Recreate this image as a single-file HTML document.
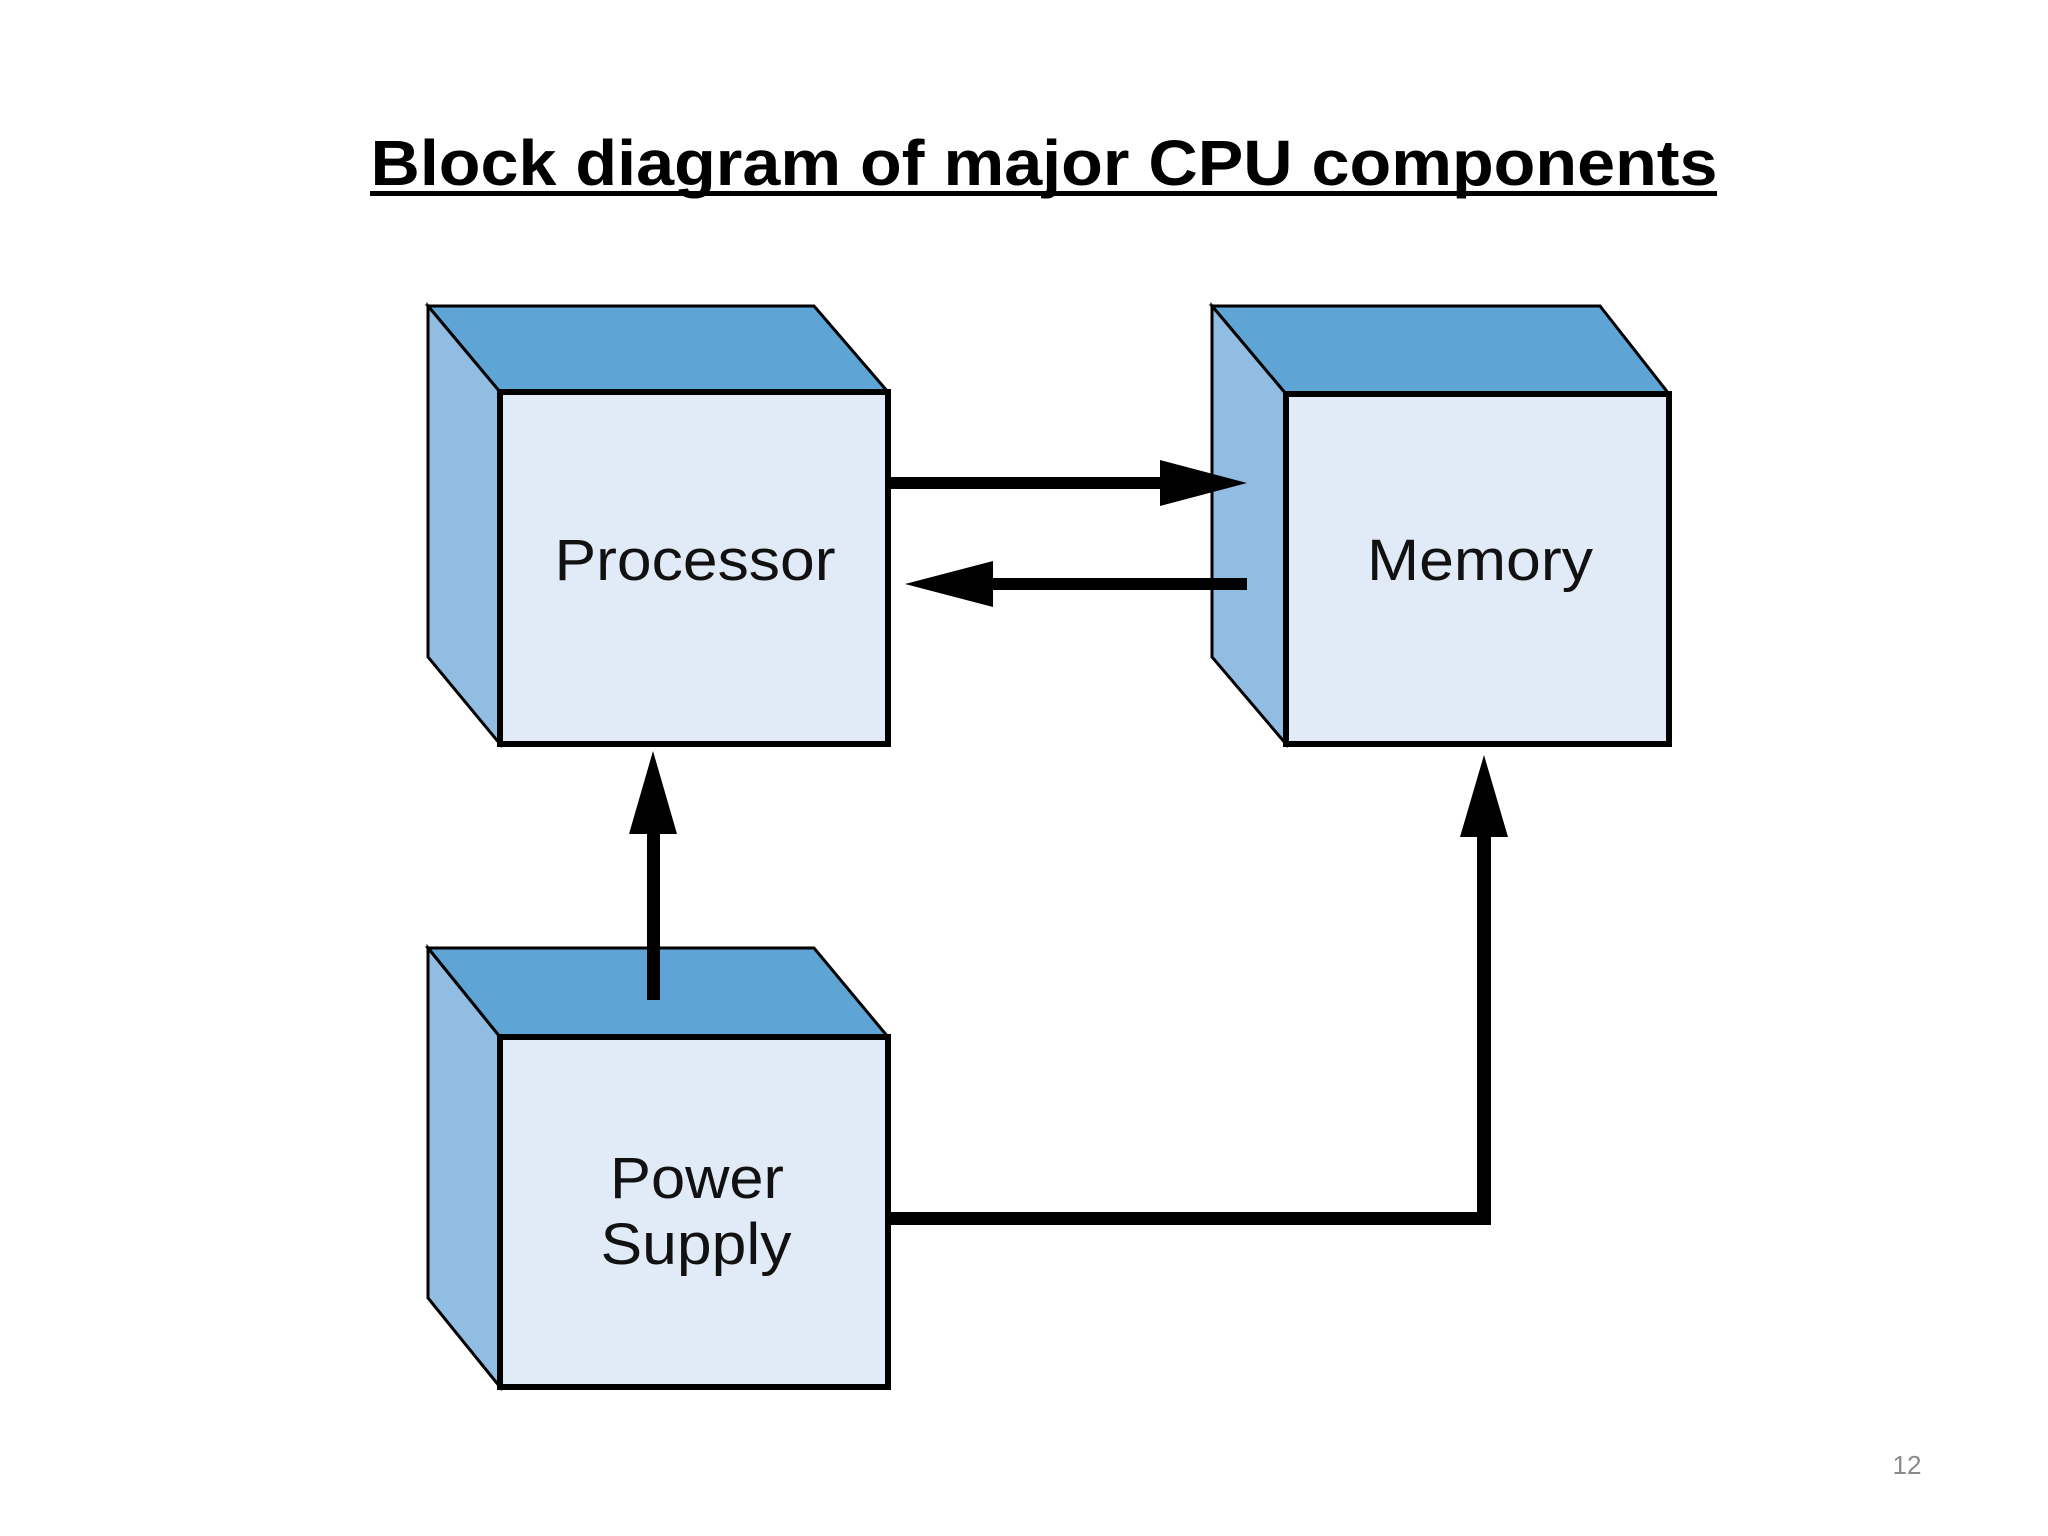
<!DOCTYPE html>
<html><head><meta charset="utf-8"><style>
html,body{margin:0;padding:0;background:#fff;}
svg{display:block;}
</style></head><body>
<svg width="2048" height="1536" viewBox="0 0 2048 1536" xmlns="http://www.w3.org/2000/svg">
<rect width="2048" height="1536" fill="#fff"/>
<text x="1044" y="185" font-family="Liberation Sans, sans-serif" font-weight="bold" font-size="64" text-anchor="middle" textLength="1347" lengthAdjust="spacingAndGlyphs" fill="#000">Block diagram of major CPU components</text>
<rect x="370" y="191" width="1347" height="5" fill="#000"/>

<g stroke="#000" stroke-linejoin="miter">
<polygon points="428,306 814,306 888,392 500,392" fill="#5ea5d5" stroke-width="3"/>
<polygon points="428,306 500,392 500,744 428,657" fill="#92bde3" stroke-width="3"/>
<rect x="500" y="392" width="388" height="352" fill="#e1eaf7" stroke-width="6"/>
<polygon points="1212,306 1600,306 1669,394 1286,394" fill="#5ea5d5" stroke-width="3"/>
<polygon points="1212,306 1286,394 1286,744 1212,657" fill="#92bde3" stroke-width="3"/>
<rect x="1286" y="394" width="383" height="350" fill="#e1eaf7" stroke-width="6"/>
<polygon points="428,948 814,948 888,1037 500,1037" fill="#5ea5d5" stroke-width="3"/>
<polygon points="428,948 500,1037 500,1387 428,1298" fill="#92bde3" stroke-width="3"/>
<rect x="500" y="1037" width="388" height="350" fill="#e1eaf7" stroke-width="6"/>
</g>

<g font-family="Liberation Sans, sans-serif" font-size="58" fill="#111" text-anchor="middle" lengthAdjust="spacingAndGlyphs">
<text x="695" y="580" textLength="281" lengthAdjust="spacingAndGlyphs">Processor</text>
<text x="1480" y="580" textLength="226" lengthAdjust="spacingAndGlyphs">Memory</text>
<text x="697" y="1198" textLength="174" lengthAdjust="spacingAndGlyphs">Power</text>
<text x="696" y="1264" textLength="191" lengthAdjust="spacingAndGlyphs">Supply</text>
</g>

<g fill="#000">
<rect x="888" y="477" width="275" height="12"/>
<polygon points="1160,460 1247,483 1160,506"/>
<rect x="990" y="578" width="257" height="12"/>
<polygon points="993,561 905,584 993,607"/>
<rect x="647" y="830" width="13" height="170"/>
<polygon points="629,834 653,751 677,834"/>
<rect x="888" y="1212" width="603" height="13"/>
<rect x="1477" y="832" width="14" height="393"/>
<polygon points="1460,837 1484,755 1508,837"/>
</g>

<text x="1907" y="1474" font-family="Liberation Sans, sans-serif" font-size="26" fill="#8a8a8a" text-anchor="middle">12</text>
</svg>
</body></html>
